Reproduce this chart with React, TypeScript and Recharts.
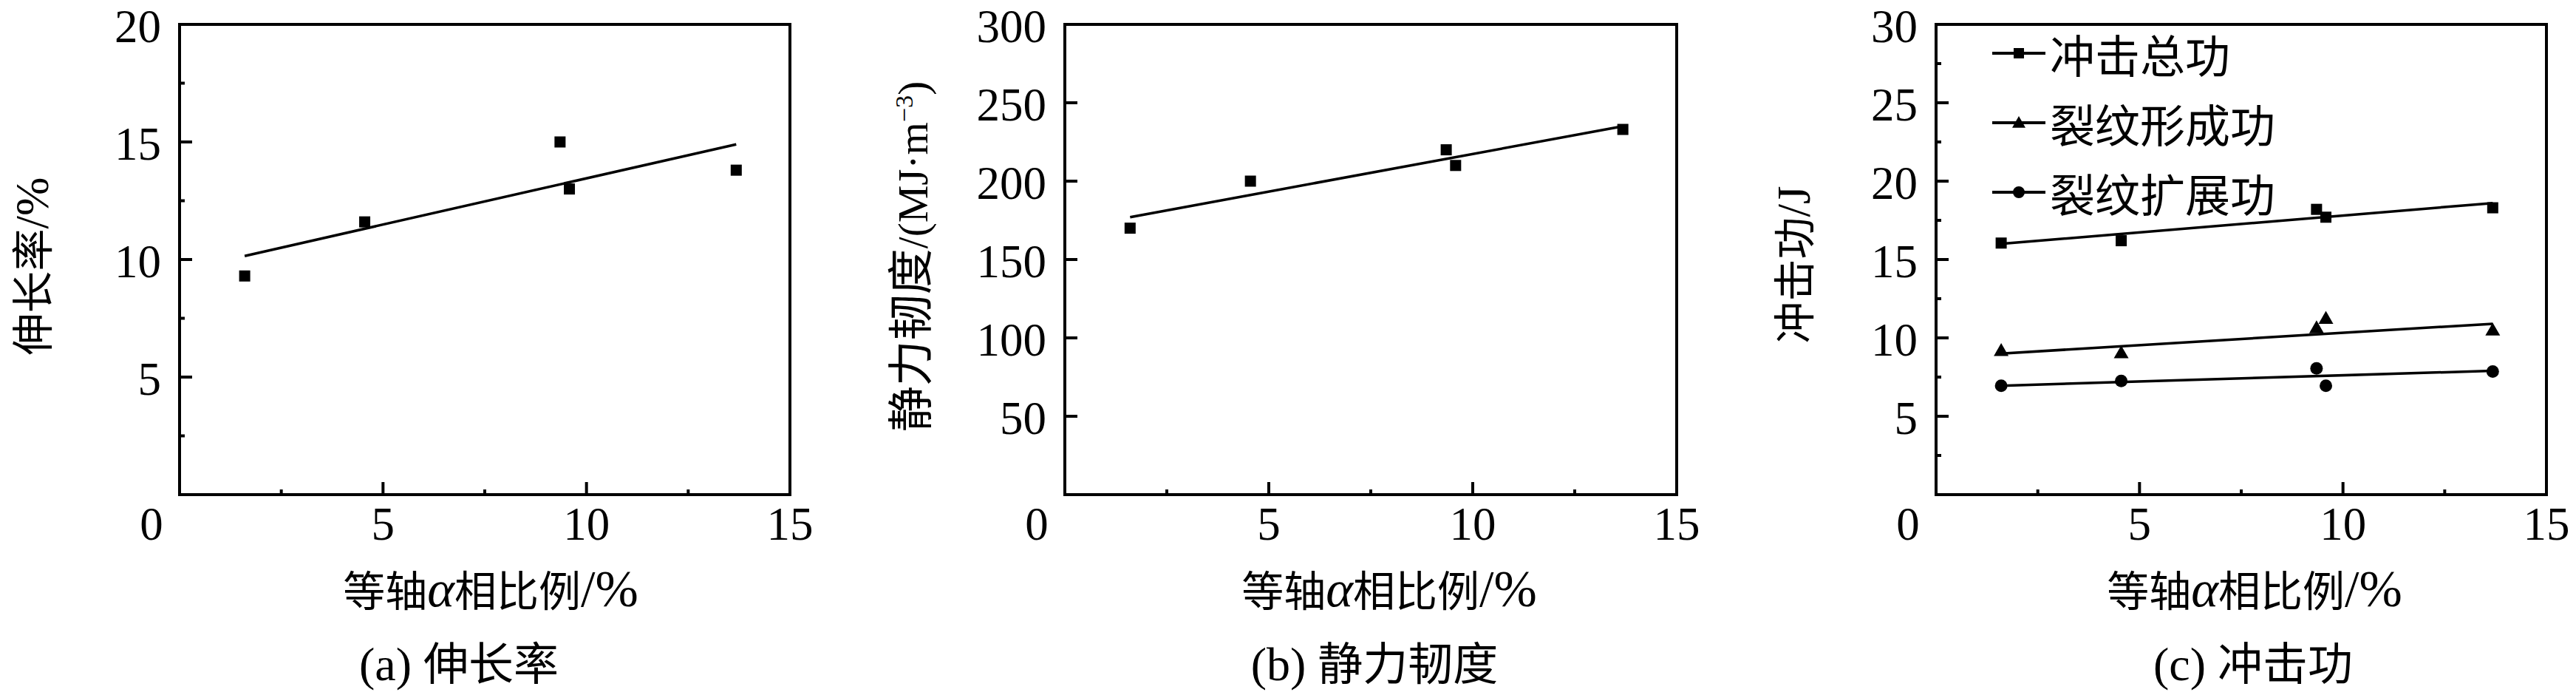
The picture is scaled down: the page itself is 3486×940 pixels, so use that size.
import React from "react"
import { ScatterChart, Scatter, XAxis, YAxis, ReferenceArea, Legend } from "recharts"

// 等轴α相比例 (%) of the five samples
const alphaRatio = [1.6, 4.55, 9.35, 9.58, 13.68]

// (a) 伸长率 (%)
const elongation = [9.3, 11.6, 15.0, 13.0, 13.8]
// (b) 静力韧度 (MJ·m-3)
const staticToughness = [170, 200, 220, 210, 233]
// (c) 冲击功 (J)
const impactTotal = [16.05, 16.2, 18.2, 17.7, 18.3]
const crackInitiation = [9.15, 9.0, 10.6, 11.2, 10.45]
const crackPropagation = [6.95, 7.25, 8.05, 6.95, 7.85]

// linear fit lines, read at both ends
const fitX = [1.6, 13.68]
const elongationFit = [10.15, 14.9]
const toughnessFit = [177, 235]
const impactTotalFit = [16.0, 18.6]
const initiationFit = [9.0, 10.9]
const propagationFit = [6.95, 7.9]

// ticks
const xTicks = [0, 2.5, 5, 7.5, 10, 12.5, 15]
const xLabels = [0, 5, 10, 15]
const yTicksA = [0, 2.5, 5, 7.5, 10, 12.5, 15, 17.5, 20]
const yLabelsA = [5, 10, 15, 20]
const yTicksB = [0, 50, 100, 150, 200, 250, 300]
const yLabelsB = [50, 100, 150, 200, 250, 300]
const yTicksC = [0, 2.5, 5, 7.5, 10, 12.5, 15, 17.5, 20, 22.5, 25, 27.5, 30]
const yLabelsC = [5, 10, 15, 20, 25, 30]

const legendItems = [
  { name: "冲击总功", shape: "square" },
  { name: "裂纹形成功", shape: "triangle" },
  { name: "裂纹扩展功", shape: "circle" },
]

const SERIF = '"Liberation Serif", "Times New Roman", serif'
const CJK = '"Noto Sans CJK SC", sans-serif'

const toPoints = (xs: number[], ys: number[]) => xs.map((x, i) => ({ x, y: ys[i] }))

const CHART_H = 940
const PLOT_TOP = 33
const X_AXIS_H = 271

// markers
const Square = ({ cx, cy, s = 15 }: any) => <rect x={cx - s / 2} y={cy - s / 2} width={s} height={s} fill="#000" />
const Triangle = ({ cx, cy, s = 20 }: any) => (
  <polygon points={`${cx},${cy - s * 0.55} ${cx + s / 2},${cy + s * 0.32} ${cx - s / 2},${cy + s * 0.32}`} fill="#000" />
)
const Dot = ({ cx, cy, s = 17 }: any) => <circle cx={cx} cy={cy} r={s / 2} fill="#000" />
const NoShape = () => <g />

const fitLine = { stroke: "#000", strokeWidth: 3.5 }

// inward ticks, labels outside
const XTick = ({ x, y, payload, labels }: any) => {
  const major = labels.includes(payload.value)
  return (
    <g>
      <line x1={x} x2={x} y1={y} y2={y - (major ? 17 : 7)} stroke="#000" strokeWidth={4} />
      {major && (
        <text
          x={payload.value === 0 ? x - 38 : x}
          y={y + 40}
          textAnchor="middle"
          dominantBaseline="central"
          fontFamily={SERIF}
          fontSize={63}
          fill="#000"
        >
          {payload.value}
        </text>
      )}
    </g>
  )
}

const YTick = ({ x, y, payload, labels }: any) => {
  const major = labels.includes(payload.value)
  return (
    <g>
      <line x1={x} x2={x + (major ? 17 : 7)} y1={y} y2={y} stroke="#000" strokeWidth={4} />
      {major && (
        <text x={x - 25} y={y + 3} textAnchor="end" dominantBaseline="central" fontFamily={SERIF} fontSize={63} fill="#000">
          {payload.value}
        </text>
      )}
    </g>
  )
}

const Text = ({ x, y, rotate, size, children }: any) => (
  <div
    style={{
      position: "absolute",
      left: x,
      top: y,
      transform: `translate(-50%, -50%)${rotate ? " rotate(-90deg)" : ""}`,
      whiteSpace: "nowrap",
      fontFamily: SERIF,
      fontSize: size,
      lineHeight: 1,
      color: "#000",
    }}
  >
    {children}
  </div>
)

const Cjk = ({ size, children }: any) => <span style={{ fontFamily: CJK, fontSize: size }}>{children}</span>

const renderLegend = () => (
  <div>
    {legendItems.map((item) => (
      <div key={item.name} style={{ display: "flex", alignItems: "center", height: 94 }}>
        <svg width={72} height={30}>
          <line x1={0} x2={72} y1={15} y2={15} stroke="#000" strokeWidth={4} />
          {item.shape === "square" && <Square cx={36} cy={15} s={14} />}
          {item.shape === "triangle" && <Triangle cx={36} cy={16} s={18} />}
          {item.shape === "circle" && <Dot cx={36} cy={15} s={16} />}
        </svg>
        <span style={{ fontFamily: CJK, fontSize: 61, marginLeft: 6, lineHeight: 1, color: "#000" }}>{item.name}</span>
      </div>
    ))}
  </div>
)

const XTitle = ({ x }: { x: number }) => (
  <Text x={x} y={797} size={70}>
    <Cjk size={57}>等轴</Cjk>
    <i>α</i>
    <Cjk size={57}>相比例</Cjk>/%
  </Text>
)

export default function App() {
  return (
    <div style={{ position: "absolute", left: 0, top: 0, width: 3486, height: 940, background: "#fff", overflow: "hidden" }}>
      {/* (a) 伸长率 */}
      <div style={{ position: "absolute", left: 0, top: 0 }}>
        <ScatterChart width={1150} height={CHART_H} margin={{ top: PLOT_TOP, right: 81, bottom: 0, left: 0 }}>
          <XAxis
            type="number"
            dataKey="x"
            domain={[0, 15]}
            ticks={xTicks}
            interval={0}
            height={X_AXIS_H}
            axisLine={false}
            tickLine={false}
            tickSize={0}
            tickMargin={0}
            tick={(p: any) => <XTick {...p} labels={xLabels} />}
          />
          <YAxis
            type="number"
            dataKey="y"
            domain={[0, 20]}
            ticks={yTicksA}
            interval={0}
            width={243}
            axisLine={false}
            tickLine={false}
            tickSize={0}
            tickMargin={0}
            tick={(p: any) => <YTick {...p} labels={yLabelsA} />}
          />
          <ReferenceArea x1={0} x2={15} y1={0} y2={20} fill="none" stroke="#000" strokeWidth={4} ifOverflow="visible" />
          <Scatter data={toPoints(fitX, elongationFit)} line={fitLine} shape={NoShape} isAnimationActive={false} />
          <Scatter data={toPoints(alphaRatio, elongation)} shape={(p: any) => <Square {...p} />} isAnimationActive={false} />
        </ScatterChart>
      </div>

      {/* (b) 静力韧度 */}
      <div style={{ position: "absolute", left: 1150, top: 0 }}>
        <ScatterChart width={1200} height={CHART_H} margin={{ top: PLOT_TOP, right: 81, bottom: 0, left: 0 }}>
          <XAxis
            type="number"
            dataKey="x"
            domain={[0, 15]}
            ticks={xTicks}
            interval={0}
            height={X_AXIS_H}
            axisLine={false}
            tickLine={false}
            tickSize={0}
            tickMargin={0}
            tick={(p: any) => <XTick {...p} labels={xLabels} />}
          />
          <YAxis
            type="number"
            dataKey="y"
            domain={[0, 300]}
            ticks={yTicksB}
            interval={0}
            width={291}
            axisLine={false}
            tickLine={false}
            tickSize={0}
            tickMargin={0}
            tick={(p: any) => <YTick {...p} labels={yLabelsB} />}
          />
          <ReferenceArea x1={0} x2={15} y1={0} y2={300} fill="none" stroke="#000" strokeWidth={4} ifOverflow="visible" />
          <Scatter data={toPoints(fitX, toughnessFit)} line={fitLine} shape={NoShape} isAnimationActive={false} />
          <Scatter data={toPoints(alphaRatio, staticToughness)} shape={(p: any) => <Square {...p} />} isAnimationActive={false} />
        </ScatterChart>
      </div>

      {/* (c) 冲击功 */}
      <div style={{ position: "absolute", left: 2300, top: 0 }}>
        <ScatterChart width={1186} height={CHART_H} margin={{ top: PLOT_TOP, right: 40, bottom: 0, left: 0 }}>
          <XAxis
            type="number"
            dataKey="x"
            domain={[0, 15]}
            ticks={xTicks}
            interval={0}
            height={X_AXIS_H}
            axisLine={false}
            tickLine={false}
            tickSize={0}
            tickMargin={0}
            tick={(p: any) => <XTick {...p} labels={xLabels} />}
          />
          <YAxis
            type="number"
            dataKey="y"
            domain={[0, 30]}
            ticks={yTicksC}
            interval={0}
            width={320}
            axisLine={false}
            tickLine={false}
            tickSize={0}
            tickMargin={0}
            tick={(p: any) => <YTick {...p} labels={yLabelsC} />}
          />
          <ReferenceArea x1={0} x2={15} y1={0} y2={30} fill="none" stroke="#000" strokeWidth={4} ifOverflow="visible" />
          <Legend
            layout="horizontal"
            verticalAlign="middle"
            align="center"
            content={renderLegend}
            wrapperStyle={{ left: 396, top: 25, width: "auto", height: "auto" }}
          />
          <Scatter data={toPoints(fitX, impactTotalFit)} line={fitLine} shape={NoShape} legendType="none" isAnimationActive={false} />
          <Scatter data={toPoints(fitX, initiationFit)} line={fitLine} shape={NoShape} legendType="none" isAnimationActive={false} />
          <Scatter data={toPoints(fitX, propagationFit)} line={fitLine} shape={NoShape} legendType="none" isAnimationActive={false} />
          <Scatter name="冲击总功" data={toPoints(alphaRatio, impactTotal)} shape={(p: any) => <Square {...p} />} isAnimationActive={false} />
          <Scatter name="裂纹形成功" data={toPoints(alphaRatio, crackInitiation)} shape={(p: any) => <Triangle {...p} />} isAnimationActive={false} />
          <Scatter name="裂纹扩展功" data={toPoints(alphaRatio, crackPropagation)} shape={(p: any) => <Dot {...p} />} isAnimationActive={false} />
        </ScatterChart>
      </div>

      {/* axis titles */}
      <Text x={44} y={360} rotate size={63}>
        <Cjk size={57}>伸长率</Cjk>/%
      </Text>
      <Text x={1230} y={347} rotate size={57}>
        <Cjk size={62}>静力韧度</Cjk>/(MJ·m<sup style={{ fontSize: "0.6em", lineHeight: 0 }}>−3</sup>)
      </Text>
      <Text x={2428} y={358} rotate size={63}>
        <Cjk size={57}>冲击功</Cjk>/J
      </Text>
      <XTitle x={664} />
      <XTitle x={1880} />
      <XTitle x={3051} />

      {/* captions */}
      <Text x={621} y={897} size={64}>
        (a) <Cjk size={61}>伸长率</Cjk>
      </Text>
      <Text x={1860} y={897} size={64}>
        (b) <Cjk size={61}>静力韧度</Cjk>
      </Text>
      <Text x={3049} y={897} size={64}>
        (c) <Cjk size={61}>冲击功</Cjk>
      </Text>
    </div>
  )
}
